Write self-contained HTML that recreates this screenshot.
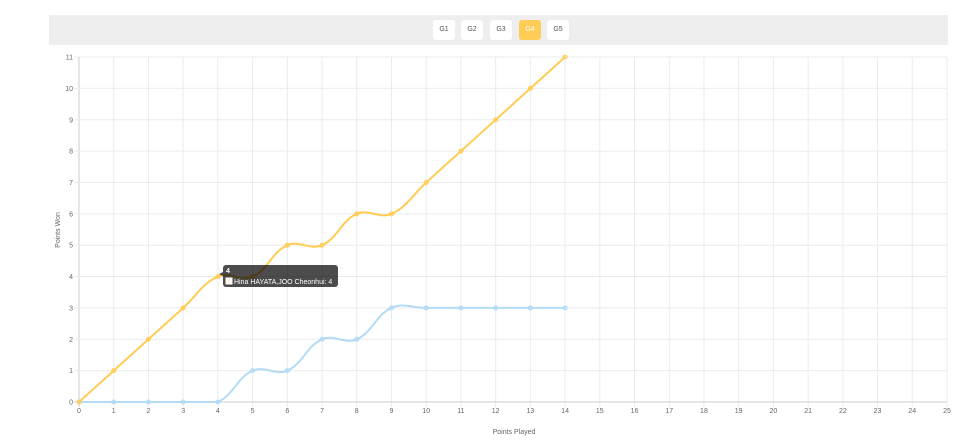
<!DOCTYPE html><html><head><style>body{margin:0;width:960px;height:443px;background:#fff;font-family:"Liberation Sans",sans-serif;overflow:hidden;position:relative}
.bar{position:absolute;left:49px;top:15px;width:899px;height:30px;background:#eee}
.b{position:absolute;top:20px;height:20px;width:22px;background:#fff;border-radius:3px;font-size:7px;color:#555;text-align:center;line-height:20px}
</style></head><body>
<div class="bar"></div>
<div class="b" style="left:433px">G1</div><div class="b" style="left:461px">G2</div><div class="b" style="left:490px">G3</div><div class="b" style="left:519px;background:#ffcd56;color:#fff">G4</div><div class="b" style="left:547px">G5</div>
<svg id="s" width="960" height="443" style="position:absolute;left:0;top:0" font-family="Liberation Sans, sans-serif"></svg>
<script>
var s=document.getElementById('s'),h='';
var X=v=>79+v*34.72,Y=v=>402-v*31.36;
for(var i=0;i<=25;i++){h+=`<line x1="${X(i)}" y1="57" x2="${X(i)}" y2="407" stroke="${i?'#ebebeb':'#ccc'}"/>`;h+=`<text x="${X(i)}" y="413" font-size="7" fill="#666" text-anchor="middle">${i}</text>`}
for(var j=0;j<=11;j++){h+=`<line x1="74" y1="${Y(j)}" x2="947" y2="${Y(j)}" stroke="${j?'#ebebeb':'#ccc'}"/>`;h+=`<text x="73" y="${Y(j)+2.5}" font-size="7" fill="#666" text-anchor="end">${j}</text>`}
h+=`<text x="514" y="434" font-size="7" fill="#666" text-anchor="middle">Points Played</text>`;
h+=`<text transform="translate(60,230) rotate(-90)" font-size="7" fill="#666" text-anchor="middle">Points Won</text>`;
var cl=v=>Math.min(402,Math.max(57,v));
function path(d,c){var p=d.map((v,i)=>[X(i),Y(v)]),t=0.4,cps=[];
for(var i=0;i<p.length;i++){var pr=p[i-1]||p[i],cu=p[i],nx=p[i+1]||p[i];
var d01=Math.hypot(cu[0]-pr[0],cu[1]-pr[1]),d12=Math.hypot(nx[0]-cu[0],nx[1]-cu[1]);
var s01=d01/(d01+d12)||0,s12=d12/(d01+d12)||0;
cps.push([[cu[0]-t*s01*(nx[0]-pr[0]),cl(cu[1]-t*s01*(nx[1]-pr[1]))],[cu[0]+t*s12*(nx[0]-pr[0]),cl(cu[1]+t*s12*(nx[1]-pr[1]))]]);}
var o='M'+p[0];for(var i=1;i<p.length;i++)o+=' C'+cps[i-1][1]+' '+cps[i][0]+' '+p[i];
var r=`<path d="${o}" fill="none" stroke="${c}" stroke-width="2"/>`;
p.forEach(q=>r+=`<circle cx="${q[0]}" cy="${q[1]}" r="2" fill="${c}" fill-opacity="0.5" stroke="${c}"/>`);return r}
h+=path([0,0,0,0,0,1,1,2,2,3,3,3,3,3,3],'#b3dbf5');
h+=path([0,1,2,3,4,4,5,5,6,6,7,8,9,10,11],'#ffcd56');
h+=`<path d="M223 276 L219 274 L223 272Z" fill="rgba(0,0,0,0.7)"/><rect x="223" y="265" width="115" height="22" rx="3" fill="rgba(0,0,0,0.7)"/>`;
h+=`<text x="226" y="273" font-size="7" font-weight="bold" fill="#fff">4</text><rect x="226" y="278" width="6" height="6" fill="#fff5dd" stroke="#fff"/><text x="234" y="284" font-size="7" fill="#fff">Hina HAYATA,JOO Cheonhui: 4</text>`;
s.innerHTML=h;
</script></body></html>
